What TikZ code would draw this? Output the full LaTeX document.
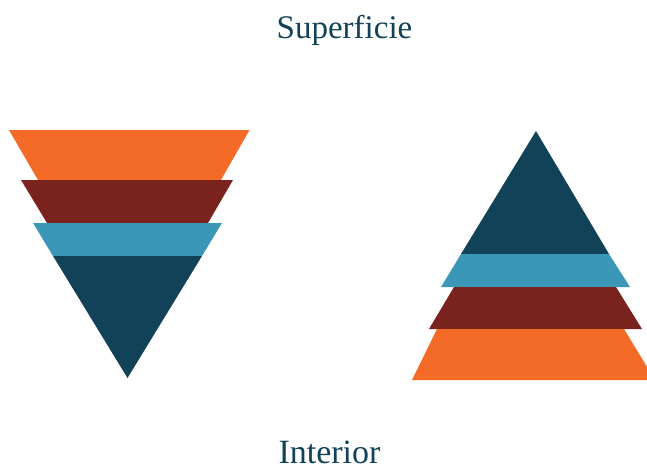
\documentclass[tikz,border=0pt]{standalone}
\usepackage{fontspec}
\setmainfont{Liberation Serif}
\definecolor{cOrange}{HTML}{F46A27}
\definecolor{cMaroon}{HTML}{7A221D}
\definecolor{cLight}{HTML}{3A97B8}
\definecolor{cDark}{HTML}{124257}
\tikzset{lbl/.style={text=cDark, font=\fontsize{33}{36}\selectfont, anchor=base, inner sep=0pt}}
\begin{document}
\begin{tikzpicture}[x=1pt,y=-1pt]
\useasboundingbox (0,0) rectangle (647,471);
\begin{scope}
\clip (0,0) rectangle (647,471);
% left (inverted) pyramid
\fill[cOrange] (9,130) -- (249.5,130) -- (221,180) -- (38,180) -- cycle;
\fill[cMaroon] (21,180) -- (233,180) -- (208,223) -- (47,223) -- cycle;
\fill[cLight] (33,223) -- (222,223) -- (202,256) -- (53,256) -- cycle;
\fill[cDark] (53,256) -- (202,256) -- (127.5,378) -- cycle;
% right pyramid
\fill[cDark] (536,131) -- (609,254) -- (461,254) -- cycle;
\fill[cLight] (461,254) -- (609,254) -- (630,287) -- (441,287) -- cycle;
\fill[cMaroon] (454,287) -- (616,287) -- (642,329) -- (429,329) -- cycle;
\fill[cOrange] (437,329) -- (624,329) -- (655,380) -- (412,380) -- cycle;
\end{scope}
% labels
\node[lbl] (sup) at (344.5,38) {Superficie};
\node[lbl, font=\fontsize{34}{36}\selectfont] (int) at (329.5,463) {Interior};
\end{tikzpicture}
\end{document}
